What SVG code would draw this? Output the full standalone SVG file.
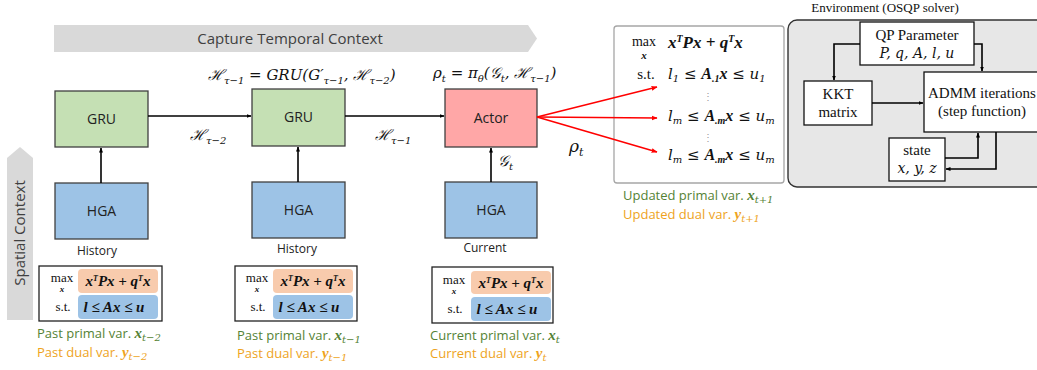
<svg xmlns="http://www.w3.org/2000/svg" width="1037" height="370" viewBox="0 0 1037 370">
<defs>
<marker id="ah" viewBox="0 0 10 10" refX="9" refY="5" markerWidth="5" markerHeight="5" orient="auto" markerUnits="userSpaceOnUse"><path d="M0,1 L10,5 L0,9 z" fill="#000"/></marker>
<marker id="ahr" viewBox="0 0 10 10" refX="9" refY="5" markerWidth="6" markerHeight="6" orient="auto" markerUnits="userSpaceOnUse"><path d="M0,1 L10,5 L0,9 z" fill="#f00"/></marker>
</defs>
<style>
.box{stroke:#404040;stroke-width:1.3}
.gru{fill:#c5e0b4}
.hga{fill:#9dc3e6}
.actor{fill:#ffa7a7}
.sans{font-family:"Open Sans","Noto Sans",sans-serif;fill:#222}
.lbl{font-family:"Open Sans","Noto Sans",sans-serif;font-size:14px;text-anchor:middle;fill:#222}
.m{font-family:"DejaVu Serif","Liberation Serif",serif;font-style:italic;fill:#111}
.mb{font-family:"Liberation Serif",serif;font-style:italic;font-weight:bold;fill:#111}
.r{font-family:"Liberation Serif",serif;fill:#111}
.conn{stroke:#000;stroke-width:1.6;fill:none}
.red{stroke:#f00;stroke-width:1.6;fill:none}
.qp{fill:#fff;stroke:#222;stroke-width:1.3}
.or{fill:#f8cbad}
.bl{fill:#9dc3e6}
.env{fill:#fff;stroke:#111;stroke-width:1.3}
.tnr{font-family:"Liberation Serif",serif;font-size:15px;text-anchor:middle;fill:#111}
.g{fill:#548235}
.o{fill:#eea31c}
</style>

<!-- context arrows -->
<g id="temporal">
<path d="M54,25 H528 L537,38.5 L528,52 H54 Z" fill="#d9d9d9"/>
<text x="290" y="44" class="sans" font-size="15" text-anchor="middle" style="fill:#404040">Capture Temporal Context</text>
</g>
<g id="spatial">
<path d="M7,320 V158 L20,147 L33,158 V320 Z" fill="#d9d9d9"/>
<text transform="translate(25,233) rotate(-90)" class="sans" font-size="15" text-anchor="middle" style="fill:#404040">Spatial Context</text>
</g>

<!-- formulas -->
<text class="m" x="208" y="80" font-size="15">ℋ<tspan font-size="10" dy="4">τ−1</tspan><tspan dy="-4"> = GRU(G′</tspan><tspan font-size="10" dy="4">τ−1</tspan><tspan dy="-4">, ℋ</tspan><tspan font-size="10" dy="4">τ−2</tspan><tspan dy="-4">)</tspan></text>
<text class="m" x="433" y="78" font-size="15">ρ<tspan font-size="10" dy="4">t</tspan><tspan dy="-4"> = π</tspan><tspan font-size="10" dy="4">θ</tspan><tspan dy="-4">(𝒢</tspan><tspan font-size="10" dy="4">t</tspan><tspan dy="-4">, ℋ</tspan><tspan font-size="10" dy="4">τ−1</tspan><tspan dy="-4">)</tspan></text>

<!-- nodes -->
<g id="gru1"><rect x="55" y="91" width="93" height="56" class="box gru"/><text x="101.5" y="124" class="lbl">GRU</text></g>
<g id="gru2"><rect x="252" y="89" width="93" height="57" class="box gru"/><text x="298.5" y="122" class="lbl">GRU</text></g>
<g id="actor"><rect x="445" y="89" width="92" height="58" class="box actor"/><text x="491" y="123" class="lbl">Actor</text></g>
<g id="hga1"><rect x="55" y="183" width="93" height="56" class="box hga"/><text x="101.5" y="216" class="lbl">HGA</text><text x="97" y="255" class="lbl" style="font-size:12px">History</text></g>
<g id="hga2"><rect x="252" y="182" width="93" height="56" class="box hga"/><text x="298.5" y="215" class="lbl">HGA</text><text x="297" y="253" class="lbl" style="font-size:12px">History</text></g>
<g id="hga3"><rect x="445" y="182" width="92" height="56" class="box hga"/><text x="491" y="215" class="lbl">HGA</text><text x="485" y="252" class="lbl" style="font-size:12px">Current</text></g>

<!-- bottom QP boxes -->
<g id="qp1">
<rect x="39" y="266" width="123" height="55" class="qp"/>
<rect x="78" y="269" width="80" height="24" rx="4" class="or"/>
<rect x="78" y="295" width="80" height="24" rx="4" class="bl"/>
<text x="62" y="282" class="r" font-size="13" text-anchor="middle">max</text><text x="62" y="292" class="mb" font-size="9" text-anchor="middle">x</text>
<text x="63" y="311" class="r" font-size="13" text-anchor="middle">s.t.</text>
<text x="118" y="286" class="mb" font-size="15" text-anchor="middle">x<tspan font-size="8" dy="-5">T</tspan><tspan dy="5">Px + q</tspan><tspan font-size="8" dy="-5">T</tspan><tspan dy="5">x</tspan></text>
<text x="114" y="312" class="mb" font-size="15" text-anchor="middle">l ≤ Ax ≤ u</text>
<text x="37" y="338" class="sans g" font-size="13">Past primal var. <tspan class="mb g" font-size="15">x</tspan><tspan class="m g" font-size="10" dy="3">t−2</tspan></text>
<text x="37" y="357" class="sans o" font-size="13">Past dual var. <tspan class="mb o" font-size="15">y</tspan><tspan class="m o" font-size="10" dy="3">t−2</tspan></text>
</g>
<g id="qp2">
<rect x="235" y="266" width="122" height="55" class="qp"/>
<rect x="273" y="269" width="80" height="24" rx="4" class="or"/>
<rect x="273" y="295" width="80" height="24" rx="4" class="bl"/>
<text x="257" y="282" class="r" font-size="13" text-anchor="middle">max</text><text x="257" y="292" class="mb" font-size="9" text-anchor="middle">x</text>
<text x="258" y="311" class="r" font-size="13" text-anchor="middle">s.t.</text>
<text x="313" y="286" class="mb" font-size="15" text-anchor="middle">x<tspan font-size="8" dy="-5">T</tspan><tspan dy="5">Px + q</tspan><tspan font-size="8" dy="-5">T</tspan><tspan dy="5">x</tspan></text>
<text x="309" y="312" class="mb" font-size="15" text-anchor="middle">l ≤ Ax ≤ u</text>
<text x="237" y="340" class="sans g" font-size="13">Past primal var. <tspan class="mb g" font-size="15">x</tspan><tspan class="m g" font-size="10" dy="3">t−1</tspan></text>
<text x="237" y="358" class="sans o" font-size="13">Past dual var. <tspan class="mb o" font-size="15">y</tspan><tspan class="m o" font-size="10" dy="3">t−1</tspan></text>
</g>
<g id="qp3">
<rect x="432" y="267" width="121" height="56" class="qp"/>
<rect x="471" y="271" width="80" height="23" rx="4" class="or"/>
<rect x="471" y="297" width="80" height="24" rx="4" class="bl"/>
<text x="454" y="284" class="r" font-size="13" text-anchor="middle">max</text><text x="454" y="294" class="mb" font-size="9" text-anchor="middle">x</text>
<text x="455" y="313" class="r" font-size="13" text-anchor="middle">s.t.</text>
<text x="511" y="288" class="mb" font-size="15" text-anchor="middle">x<tspan font-size="8" dy="-5">T</tspan><tspan dy="5">Px + q</tspan><tspan font-size="8" dy="-5">T</tspan><tspan dy="5">x</tspan></text>
<text x="507" y="314" class="mb" font-size="15" text-anchor="middle">l ≤ Ax ≤ u</text>
<text x="430" y="340" class="sans g" font-size="13">Current primal var. <tspan class="mb g" font-size="15">x</tspan><tspan class="m g" font-size="10" dy="3">t</tspan></text>
<text x="430" y="358" class="sans o" font-size="13">Current dual var. <tspan class="mb o" font-size="15">y</tspan><tspan class="m o" font-size="10" dy="3">t</tspan></text>
</g>

<!-- right QP -->
<g id="qp-updated">
<rect x="614" y="26" width="170" height="157" rx="3" fill="#fff" stroke="#a6a6a6" stroke-width="1.3"/>
<text x="644" y="46" class="r" font-size="14" text-anchor="middle">max</text><text x="644" y="59" class="mb" font-size="11" text-anchor="middle">x</text>
<text x="668" y="48" class="mb" font-size="17">x<tspan font-size="10" dy="-6">T</tspan><tspan dy="6">Px + q</tspan><tspan font-size="10" dy="-6">T</tspan><tspan dy="6">x</tspan></text>
<text x="646" y="79" class="r" font-size="15" text-anchor="middle">s.t.</text>
<text x="668" y="79" class="m" font-size="15">l<tspan font-size="10" dy="3">1</tspan><tspan dy="-3" style="font-style:normal"> ≤ </tspan><tspan class="mb" font-size="16">A</tspan><tspan class="mb" font-size="10" dy="3">.1</tspan><tspan class="mb" font-size="16" dy="-3">x</tspan><tspan style="font-style:normal"> ≤ </tspan>u<tspan font-size="10" dy="3">1</tspan></text>
<text x="708" y="100" class="r" font-size="10" text-anchor="middle" style="fill:#999">⋮</text>
<text x="668" y="121" class="m" font-size="15">l<tspan font-size="10" dy="3">m</tspan><tspan dy="-3" style="font-style:normal"> ≤ </tspan><tspan class="mb" font-size="16">A</tspan><tspan class="mb" font-size="10" dy="3">.m</tspan><tspan class="mb" font-size="16" dy="-3">x</tspan><tspan style="font-style:normal"> ≤ </tspan>u<tspan font-size="10" dy="3">m</tspan></text>
<text x="708" y="141" class="r" font-size="10" text-anchor="middle" style="fill:#999">⋮</text>
<text x="668" y="160" class="m" font-size="15">l<tspan font-size="10" dy="3">m</tspan><tspan dy="-3" style="font-style:normal"> ≤ </tspan><tspan class="mb" font-size="16">A</tspan><tspan class="mb" font-size="10" dy="3">.m</tspan><tspan class="mb" font-size="16" dy="-3">x</tspan><tspan style="font-style:normal"> ≤ </tspan>u<tspan font-size="10" dy="3">m</tspan></text>
<text x="623" y="200" class="sans g" font-size="13">Updated primal var. <tspan class="mb g" font-size="15">x</tspan><tspan class="m g" font-size="10" dy="3">t+1</tspan></text>
<text x="623" y="219" class="sans o" font-size="13">Updated dual var. <tspan class="mb o" font-size="15">y</tspan><tspan class="m o" font-size="10" dy="3">t+1</tspan></text>
</g>

<!-- environment -->
<g id="environment">
<text x="885" y="12" class="tnr" style="font-size:13px">Environment (OSQP solver)</text>
<rect x="788" y="20" width="262" height="167" rx="9" fill="#e7e7e7" stroke="#333" stroke-width="1.4"/>
</g>
<g id="qp-param"><rect x="860" y="22" width="114" height="43" class="env"/><text x="917" y="40" class="tnr">QP Parameter</text><text x="917" y="58" class="m" font-size="14" text-anchor="middle">P, q, A, l, u</text></g>
<g id="kkt"><rect x="804" y="81" width="68" height="44" class="env"/><text x="838" y="99" class="tnr">KKT</text><text x="838" y="117" class="tnr">matrix</text></g>
<g id="admm"><rect x="924" y="72" width="120" height="60" class="env"/><text x="982" y="98" class="tnr">ADMM iterations</text><text x="982" y="116" class="tnr">(step function)</text></g>
<g id="state"><rect x="889" y="138" width="56" height="43" class="env"/><text x="917" y="155" class="tnr">state</text><text x="917" y="173" class="m" font-size="14" text-anchor="middle">x, y, z</text></g>

<!-- connectors -->
<g id="connectors">
<line x1="148" y1="116" x2="251" y2="116" class="conn" marker-end="url(#ah)"/>
<line x1="345" y1="116" x2="444" y2="116" class="conn" marker-end="url(#ah)"/>
<line x1="101" y1="183" x2="101" y2="148" class="conn" marker-end="url(#ah)"/>
<line x1="298" y1="182" x2="298" y2="147" class="conn" marker-end="url(#ah)"/>
<line x1="491" y1="182" x2="491" y2="148" class="conn" marker-end="url(#ah)"/>
<line x1="537" y1="117" x2="657" y2="87" class="red" marker-end="url(#ahr)"/>
<line x1="537" y1="117" x2="657" y2="118" class="red" marker-end="url(#ahr)"/>
<line x1="537" y1="117" x2="657" y2="152" class="red" marker-end="url(#ahr)"/>
<path d="M860,44 H834 V80" class="conn" marker-end="url(#ah)"/>
<path d="M974,44 H982 V71" class="conn" marker-end="url(#ah)"/>
<line x1="872" y1="103" x2="923" y2="103" class="conn" marker-end="url(#ah)"/>
<path d="M945,158 H978 V133" class="conn" marker-end="url(#ah)"/>
<path d="M996,132 V169 H946" class="conn" marker-end="url(#ah)"/>
</g>

<!-- connector labels -->
<text x="190" y="140" class="m" font-size="15">ℋ<tspan font-size="10" dy="4">τ−2</tspan></text>
<text x="375" y="140" class="m" font-size="15">ℋ<tspan font-size="10" dy="4">τ−1</tspan></text>
<text x="498" y="166" class="m" font-size="15">𝒢<tspan font-size="10" dy="4">t</tspan></text>
<text x="569" y="152" class="m" font-size="17">ρ<tspan font-size="11" dy="4">t</tspan></text>
</svg>
